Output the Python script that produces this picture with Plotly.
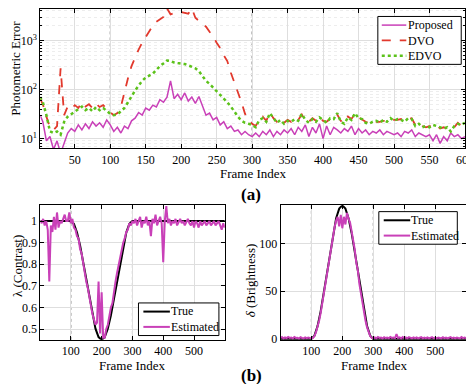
import plotly.graph_objects as go

# ---------------- data ----------------
frames = [1] + list(range(5, 601, 5))  # 121 frame indices

proposed = [30, 22, 9, 11, 6, 9, 5, 8, 13, 16, 14, 19, 15, 20, 16, 22, 18, 21, 17, 24,
            19, 14, 17, 13, 18, 16, 23, 26, 34, 30, 42, 38, 48, 44, 62, 55, 70, 150, 65, 80,
            62, 85, 58, 70, 52, 72, 45, 30, 33, 24, 27, 19, 22, 16, 18, 14, 15, 12, 14, 12,
            11, 13, 11, 14, 12, 15, 11, 14, 12, 15, 13, 16, 12, 17, 14, 19, 11, 17, 13, 20,
            10, 18, 12, 17, 15, 13, 16, 14, 18, 12, 16, 13, 15, 12, 14, 13, 15, 12, 14, 13,
            12, 13, 11, 14, 13, 15, 11, 13, 12, 11, 12, 9, 12, 8, 11, 9, 13, 11, 12, 10, 11]

dvo = [65, 50, 28, 17, 15, 18, 270, 30, 45, 40, 48, 42, 55, 45, 50, 42, 52, 44, 48, 40,
       34, 30, 33, 45, 90, 170, 300, 450, 650, 900, 1200, 1600, 2000, 2400, 2700, 3000, 4500, 3400, 3600, 3800,
       3800, 3700, 3500, 4500, 2900, 2500, 2200, 1900, 1500, 1200, 900, 700, 500, 380, 220, 140, 85, 55, 32, 24,
       20, 18, 25, 28, 23, 34, 26, 22, 25, 21, 24, 22, 26, 24, 31, 23, 22, 26, 23, 28,
       23, 22, 25, 26, 31, 23, 21, 28, 25, 32, 27, 24, 22, 21, 23, 22, 22, 23, 23, 25,
       24, 24, 25, 23, 25, 26, 19, 21, 18, 17, 18, 18, 19, 16, 17, 16, 15, 17, 21, 18, 20]

edvo = [70, 55, 30, 14, 13, 14, 12, 22, 28, 32, 36, 40, 45, 38, 42, 36, 44, 38, 42, 36,
        32, 30, 31, 36, 42, 55, 75, 95, 120, 150, 175, 195, 210, 250, 300, 340, 390, 380, 355, 345,
        340, 330, 310, 290, 270, 235, 190, 150, 130, 110, 95, 80, 68, 55, 45, 35, 28, 23, 21, 20,
        19, 17, 24, 26, 22, 33, 27, 21, 24, 20, 23, 22, 25, 23, 32, 24, 21, 25, 22, 27,
        24, 21, 26, 25, 33, 22, 20, 27, 24, 33, 26, 25, 21, 20, 22, 23, 21, 24, 22, 26,
        23, 25, 24, 22, 26, 25, 18, 20, 17, 18, 17, 19, 18, 17, 16, 17, 14, 18, 20, 19, 21]

true_frames = [1, 100, 110, 120, 130, 140, 150, 160, 170, 180, 190, 200,
               210, 220, 230, 240, 250, 260, 270, 280, 290, 300, 600]
lambda_true = [1.0, 1.0, 0.987, 0.947, 0.887, 0.81, 0.725, 0.64, 0.563, 0.502, 0.463, 0.45,
               0.463, 0.502, 0.563, 0.64, 0.725, 0.81, 0.887, 0.947, 0.987, 1.0, 1.0]
delta_true = [0, 0, 3.4, 13.4, 28.9, 48.3, 70, 91.7, 111.1, 126.6, 136.6, 140,
              136.6, 126.6, 111.1, 91.7, 70, 48.3, 28.9, 13.4, 3.4, 0, 0]

lambda_est = [1.0, 0.99, 1.01, 0.98, 1.0, 0.96, 0.72, 0.98, 0.95, 1.02, 0.96, 1.04, 0.97, 1.0, 0.99, 1.01,
              1.03, 1.0, 1.0, 1.04, 0.99, 1.01, 0.97, 0.96, 0.93, 0.92, 0.87, 0.85, 0.8, 0.77, 0.72,
              0.69, 0.64, 0.61, 0.57, 0.55, 0.52, 0.53, 0.72, 0.48, 0.67, 0.46, 0.46, 0.5, 0.52, 0.56,
              0.6, 0.62, 0.68, 0.72, 0.76, 0.8, 0.84, 0.86, 0.9, 0.92, 0.95, 0.96, 0.99, 0.98, 1.0,
              0.99, 1.01, 0.98, 1.0, 1.02, 0.97, 1.0, 0.99, 1.02, 0.98, 1.0, 0.93, 1.01, 0.99, 1.03,
              0.98, 1.0, 1.02, 0.99, 0.81, 1.0, 1.07, 0.99, 1.01, 0.98, 1.0, 0.99, 1.01, 0.98, 1.0,
              1.01, 0.99, 1.0, 0.98, 1.0, 1.01, 0.99, 0.98, 1.0, 0.97, 1.0, 0.99, 0.97, 1.0, 0.98,
              0.99, 1.0, 0.98, 0.99, 1.0, 0.98, 0.99, 1.0, 0.98, 0.99, 1.0, 0.98, 0.96, 0.99, 0.97]

delta_est = [1, 2, 0.5, 1.5, 0.8, 2, 1, 1.5, 0.5, 2, 1, 1.2, 0.4, 1.8, 1, 0.6, 1.6, 0.8, 1.5, 0.6,
             0.5, 1, 3, 7, 12, 19, 27, 37, 47, 58, 69, 80, 90, 100, 110, 117, 124, 128, 118, 130,
             116, 128, 120, 132, 126, 122, 113, 104, 94, 80, 72, 58, 48, 37, 27, 19, 12, 7, 3, 1,
             0.5, 1.5, 0.6, 2, 1, 1.4, 0.5, 1.8, 0.9, 1.5, 0.6, 2, 1, 1.5, 0.7, 5, 1, 1.6, 0.5, 2,
             0.8, 1.5, 0.6, 1.8, 1, 0.5, 1.6, 0.8, 1.5, 0.5, 1.2, 1.8, 0.6, 1.4, 0.8, 1.6, 0.5, 1.2, 1.8, 0.7,
             1.3, 0.6, 1.5, 1, 0.5, 1.7, 0.8, 1.4, 0.6, 1.2, 1.8, 0.7, 1.3, 0.5, 1.5, 1, 0.6, 1.9, 0.8, 1.4, 1]

for arr in (proposed, dvo, edvo, lambda_est, delta_est):
    assert len(arr) == len(frames), len(arr)

x_ticks_top = [50, 100, 150, 200, 250, 300, 350, 400, 450, 500, 550, 600]
x_ticks_bot = [100, 200, 300, 400, 500]
y_ticks_log = [10, 100, 1000]
y_ticks_log_text = ["10<sup>1</sup>", "10<sup>2</sup>", "10<sup>3</sup>"]
y_minor_log = [m * 10 ** k for k in (0, 1, 2, 3) for m in range(2, 10)]
y_ticks_lambda = [0.5, 0.6, 0.7, 0.8, 0.9, 1]
y_ticks_delta = [0, 50, 100]
marker_frames = [100, 300]

# ---------------- style ----------------
FONT = "Liberation Serif"
MAG = "#C940B8"
RED = "#E2392D"
GRN = "#5CC21A"
W, H = 474, 384
LEG_FS = 12
LINE_H = LEG_FS * 1.3


def px(x):
    return x / W


def py(y):
    return 1 - y / H


fig = go.Figure()

series_top = [("Proposed", proposed, dict(color=MAG, width=1.5)),
              ("DVO", dvo, dict(color=RED, width=1.8, dash="dash")),
              ("EDVO", edvo, dict(color=GRN, width=2.5, dash="dot"))]
for name, vals, ln in series_top:
    fig.add_trace(go.Scatter(x=frames, y=vals, name=name, mode="lines", line=ln,
                             xaxis="x", yaxis="y", showlegend=False))

series_l = [("True", true_frames, lambda_true, dict(color="black", width=2)),
            ("Estimated", frames, lambda_est, dict(color=MAG, width=2))]
series_d = [("True", true_frames, delta_true, dict(color="black", width=2)),
            ("Estimated", frames, delta_est, dict(color=MAG, width=2))]
for name, xs, ys, ln in series_l:
    fig.add_trace(go.Scatter(x=xs, y=ys, name=name, mode="lines", line=ln,
                             xaxis="x2", yaxis="y2", showlegend=False))
for name, xs, ys, ln in series_d:
    fig.add_trace(go.Scatter(x=xs, y=ys, name=name, mode="lines", line=ln,
                             xaxis="x3", yaxis="y3", showlegend=False))

axis_common = dict(showline=True, linecolor="black", linewidth=1, mirror="allticks",
                   ticks="inside", ticklen=4, tickcolor="black", showgrid=True,
                   gridcolor="#DEDEDE", gridwidth=1, zeroline=False,
                   ticklabeloverflow="allow",
                   tickfont=dict(family=FONT, size=12, color="black"))

fig.update_layout(
    width=W, height=H, margin=dict(l=0, r=0, t=0, b=0),
    paper_bgcolor="white", plot_bgcolor="white",
    font=dict(family=FONT, size=12, color="black"),
    showlegend=False,
    xaxis=dict(domain=[px(33), px(466)], range=[1.5, 600.3], tickvals=x_ticks_top, anchor="y",
               **axis_common),
    yaxis=dict(domain=[py(142), py(0)], type="log", range=[0.8, 3.64], tickvals=y_ticks_log,
               ticktext=y_ticks_log_text, anchor="x",
               minor=dict(tickvals=y_minor_log, showgrid=True, gridcolor="#EDEDED", griddash="dot",
                          ticks="inside", ticklen=2, tickcolor="black"),
               **axis_common),
    xaxis2=dict(domain=[px(33), px(221)], range=[1, 600], tickvals=x_ticks_bot, anchor="y2", **axis_common),
    yaxis2=dict(domain=[py(337), py(200)], range=[0.45, 1.073], tickvals=y_ticks_lambda, anchor="x2",
                **axis_common),
    xaxis3=dict(domain=[px(278), px(467)], range=[1, 600], tickvals=x_ticks_bot, anchor="y3", **axis_common),
    yaxis3=dict(domain=[py(337), py(200)], range=[-1, 140], tickvals=y_ticks_delta, anchor="x3",
                **axis_common),
)

# dotted reference lines at frames 100 and 300
for xr, yr in (("x", "y"), ("x2", "y2"), ("x3", "y3")):
    for f in marker_frames:
        fig.add_shape(type="line", xref=xr, yref=f"{yr} domain", x0=f, x1=f, y0=0, y1=1,
                      line=dict(color="#666666", width=1, dash="dot"), layer="below")


# ---------- hand-built legends (MATLAB style, compact) ----------
def legend_box(x0, x1, yc, items, line_x0, line_x1, text_x):
    n = len(items)
    half = n * LINE_H / 2
    fig.add_shape(type="rect", xref="paper", yref="paper", x0=px(x0), x1=px(x1),
                  y0=py(yc + half + 1), y1=py(yc - half - 1),
                  line=dict(color="black", width=1), fillcolor="white", layer="above")
    for i, (label, ln) in enumerate(items):
        ypos = yc + (i - (n - 1) / 2) * LINE_H
        fig.add_shape(type="line", xref="paper", yref="paper", x0=px(line_x0), x1=px(line_x1),
                      y0=py(ypos), y1=py(ypos), line=ln, layer="above")
    fig.add_annotation(text="<br>".join(lab for lab, _ in items), x=px(text_x), y=py(yc),
                       xref="paper", yref="paper", showarrow=False, align="left",
                       xanchor="left", yanchor="middle",
                       font=dict(family=FONT, size=LEG_FS, color="black"))


legend_box(377, 462, 32, [(n, ln) for n, _, ln in series_top], 381, 406, 406)
legend_box(133, 215, 316, [(n, ln) for n, _, _, ln in series_l], 138, 165, 164)
legend_box(378, 458, 223, [(n, ln) for n, _, _, ln in series_d], 383, 410, 409)

ann = [
    dict(text="Photometric Error", x=px(8), y=py(60), textangle=-90),
    dict(text="Frame Index", x=px(250), y=py(168)),
    dict(text="<b>(a)</b>", x=px(248), y=py(189), size=17),
    dict(text="λ (Contrast)", x=px(9), y=py(262), textangle=-90),
    dict(text="Frame Index", x=px(127), y=py(363)),
    dict(text="<i>δ</i> (Brightness)", x=px(248), y=py(276), textangle=-90),
    dict(text="Frame Index", x=px(374), y=py(363)),
    dict(text="<b>(b)</b>", x=px(248), y=py(373), size=17),
]
for a in ann:
    fig.add_annotation(text=a["text"], x=a["x"], y=a["y"], xref="paper", yref="paper",
                       showarrow=False, textangle=a.get("textangle", 0),
                       font=dict(family=FONT, size=a.get("size", 13), color="black"),
                       xanchor="center", yanchor="middle")

fig.write_html("out.html")
